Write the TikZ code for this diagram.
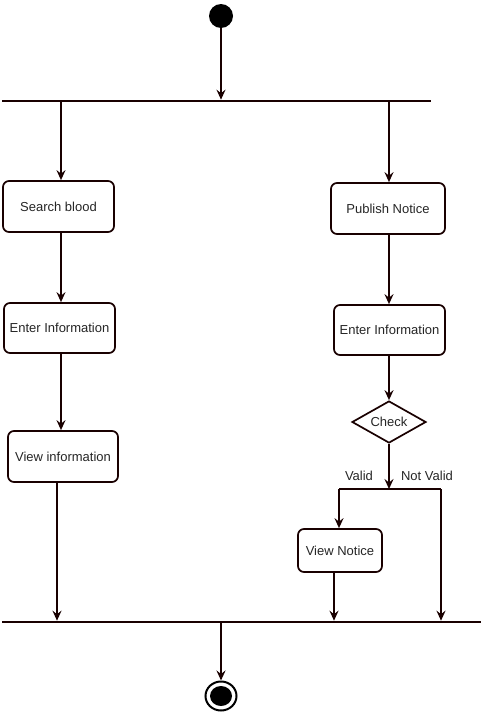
\documentclass[tikz,border=0pt]{standalone}
\usepackage{fontspec}
\setmainfont{Liberation Sans}
\usetikzlibrary{arrows.meta,shapes.geometric}
\begin{document}
\begin{tikzpicture}[x=1pt,y=-1pt,
  ln/.style={line width=1.7pt,draw=black!90!red},
  arr/.style={ln,-{Stealth[length=10pt,width=9pt,inset=3.5pt]}},
  act/.style={ln,rectangle,rounded corners=6pt,fill=white,inner sep=0pt,
    font=\fontsize{13}{15}\selectfont,text=black!85},
  lbl/.style={font=\fontsize{13}{15}\selectfont,text=black!85,inner sep=0pt},
  bar/.style={rectangle,fill=black!90!red,inner sep=0pt,minimum height=2.2pt}]
\useasboundingbox (0,0) rectangle (483,712);
% start / end
\node[circle,fill=black,inner sep=0pt,minimum size=24pt] (start) at (221,16) {};
\node[bar,minimum width=429pt] (bar1) at (216.5,101) {};
\node[bar,minimum width=479pt] (bar2) at (241.5,622) {};
\node[ellipse,ln,draw=black,line width=2pt,inner sep=0pt,minimum width=31pt,minimum height=29pt] (end) at (221,696) {};
\node[ellipse,fill=black,inner sep=0pt,minimum width=22pt,minimum height=20pt] (endin) at (221,696) {};
% activities
\node[act,minimum width=111pt,minimum height=51pt] (sb) at (58.5,206.5) {Search blood};
\node[act,minimum width=111pt,minimum height=50pt] (eiL) at (59.5,328) {Enter Information};
\node[act,minimum width=110pt,minimum height=51pt] (vi) at (63,456.5) {View information};
\node[act,minimum width=114pt,minimum height=51pt] (pn) at (388,208.5) {Publish Notice};
\node[act,minimum width=111pt,minimum height=50pt] (eiR) at (389.5,330) {Enter Information};
\node[act,rounded corners=0pt,diamond,aspect=1.76,minimum width=74pt,minimum height=42pt] (chk) at (389,422) {Check};
\node[act,minimum width=84pt,minimum height=43pt] (vn) at (340,550.5) {View Notice};
% labels
\node[lbl] (lv) at (359,476) {Valid};
\node[lbl] (lnv) at (427,476) {Not Valid};
% helper coordinates
\coordinate (cL) at (61,0);
\coordinate (cV) at (57,0);
\coordinate (cR) at (389,0);
\coordinate (cN) at (334,0);
\coordinate (jn) at (389,489);
\coordinate (jnL) at (339,489);
\coordinate (jnR) at (441,489);
% connectors
\draw[arr] (start) -- (start |- bar1.north);
\draw[arr] (bar1.south -| cL) -- (sb.north -| cL);
\draw[arr] (sb.south -| cL) -- (eiL.north -| cL);
\draw[arr] (eiL.south -| cL) -- (vi.north -| cL);
\draw[arr] (vi.south -| cV) -- (bar2.north -| cV);
\draw[arr] (bar1.south -| cR) -- (pn.north -| cR);
\draw[arr] (pn.south -| cR) -- (eiR.north -| cR);
\draw[arr] (eiR.south -| cR) -- (chk.north);
\draw[arr] (chk.south) -- (jn);
\draw[ln] (jnL) -- (jnR);
\draw[arr] (jnL) -- (vn.north -| jnL);
\draw[arr] (jnR) -- (bar2.north -| jnR);
\draw[arr] (vn.south -| cN) -- (bar2.north -| cN);
\draw[arr] (bar2.south -| start) -- (end.north);
\end{tikzpicture}
\end{document}
